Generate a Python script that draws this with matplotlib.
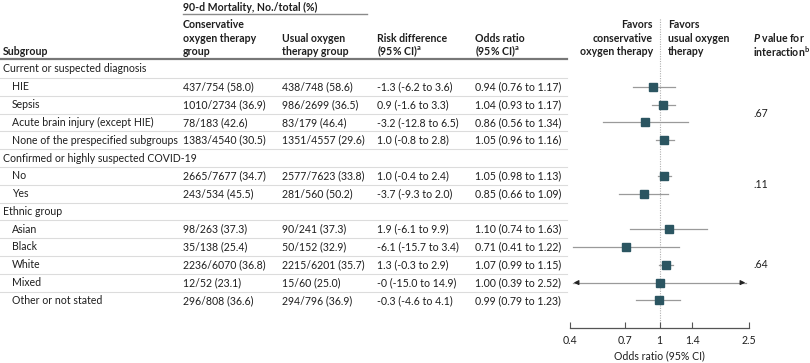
import matplotlib
matplotlib.use("Agg")
import matplotlib.pyplot as plt

plt.rcParams['font.family'] = ['Lato', 'DejaVu Sans']
plt.rcParams['mathtext.fontset'] = 'custom'
plt.rcParams['mathtext.rm'] = 'Lato'
plt.rcParams['mathtext.it'] = 'Lato:italic:bold'
plt.rcParams['mathtext.bf'] = 'Lato:bold'

# table rows (group headers have no numbers)
labels = ["Current or suspected diagnosis", "HIE", "Sepsis", "Acute brain injury (except HIE)",
          "None of the prespecified subgroups", "Confirmed or highly suspected COVID-19", "No", "Yes",
          "Ethnic group", "Asian", "Black", "White", "Mixed", "Other or not stated"]
is_header = [True, False, False, False, False, True, False, False, True, False, False, False, False, False]
conservative = ["", "437/754 (58.0)", "1010/2734 (36.9)", "78/183 (42.6)", "1383/4540 (30.5)",
                "", "2665/7677 (34.7)", "243/534 (45.5)",
                "", "98/263 (37.3)", "35/138 (25.4)", "2236/6070 (36.8)", "12/52 (23.1)", "296/808 (36.6)"]
usual = ["", "438/748 (58.6)", "986/2699 (36.5)", "83/179 (46.4)", "1351/4557 (29.6)",
         "", "2577/7623 (33.8)", "281/560 (50.2)",
         "", "90/241 (37.3)", "50/152 (32.9)", "2215/6201 (35.7)", "15/60 (25.0)", "294/796 (36.9)"]
risk_diff = ["", "-1.3 (-6.2 to 3.6)", "0.9 (-1.6 to 3.3)", "-3.2 (-12.8 to 6.5)", "1.0 (-0.8 to 2.8)",
             "", "1.0 (-0.4 to 2.4)", "-3.7 (-9.3 to 2.0)",
             "", "1.9 (-6.1 to 9.9)", "-6.1 (-15.7 to 3.4)", "1.3 (-0.3 to 2.9)", "-0 (-15.0 to 14.9)",
             "-0.3 (-4.6 to 4.1)"]
odds_text = ["", "0.94 (0.76 to 1.17)", "1.04 (0.93 to 1.17)", "0.86 (0.56 to 1.34)", "1.05 (0.96 to 1.16)",
             "", "1.05 (0.98 to 1.13)", "0.85 (0.66 to 1.09)",
             "", "1.10 (0.74 to 1.63)", "0.71 (0.41 to 1.22)", "1.07 (0.99 to 1.15)", "1.00 (0.39 to 2.52)",
             "0.99 (0.79 to 1.23)"]
or_est = [None, 0.94, 1.04, 0.86, 1.05, None, 1.05, 0.85, None, 1.10, 0.71, 1.07, 1.00, 0.99]
or_lo = [None, 0.76, 0.93, 0.56, 0.96, None, 0.98, 0.66, None, 0.74, 0.41, 0.99, 0.39, 0.79]
or_hi = [None, 1.17, 1.17, 1.34, 1.16, None, 1.13, 1.09, None, 1.63, 1.22, 1.15, 2.52, 1.23]
p_groups = [(1, 4, ".67"), (6, 7, ".11"), (9, 13, ".64")]
or_ticks = [0.4, 0.7, 1, 1.4, 2.5]

TXT = "#1e1e1e"
MARK = "#2b5561"
FS = 7.6

W, H = 810, 363
fig = plt.figure(figsize=(W / 100, H / 100), dpi=100)

# text layer in pixel coordinates
tx = fig.add_axes([0, 0, 1, 1])
tx.set_xlim(0, W)
tx.set_ylim(H, 0)
tx.axis("off")

row0, step = 69, 17.8
def row_y(i):
    return row0 + step * i

col_x = {"label": 3, "indent": 12, "cons": 183, "usual": 282, "rd": 377, "or": 475, "p": 753}

# column headers
tx.text(col_x["cons"], 7, "90-d Mortality, No./total (%)", fontsize=FS, fontweight="bold", color=TXT, va="center")
tx.plot([col_x["cons"], 367], [14, 14], color="#8a8a8a", lw=1.0)
hdr_y = [24.5, 38, 51.5]
def header(x, lines, ha="left"):
    ys = hdr_y[len(hdr_y) - len(lines):]
    for y, s in zip(ys, lines):
        tx.text(x, y, s, fontsize=FS, fontweight="bold", color=TXT, va="center", ha=ha)

header(col_x["label"], ["Subgroup"])
header(col_x["cons"], ["Conservative", "oxygen therapy", "group"])
header(col_x["usual"], ["Usual oxygen", "therapy group"])
header(col_x["rd"], ["Risk difference", r"(95% CI)$^{\mathbf{a}}$"])
header(col_x["or"], ["Odds ratio", r"(95% CI)$^{\mathbf{a}}$"])
header(653, ["Favors", "conservative", "oxygen therapy"], ha="right")
header(668, ["Favors", "usual oxygen", "therapy"])
header(col_x["p"], [r"$\mathit{P}$ value for", r"interaction$^{\mathbf{b}}$"])
tx.plot([0, 567], [59, 59], color="#777777", lw=1.6)

# table body
for i, lab in enumerate(labels):
    y = row_y(i)
    if is_header[i]:
        tx.text(col_x["label"], y, lab, fontsize=FS, color=TXT, va="center")
    else:
        tx.text(col_x["indent"], y, lab, fontsize=FS, color=TXT, va="center")
        tx.text(col_x["cons"], y, conservative[i], fontsize=FS, color=TXT, va="center")
        tx.text(col_x["usual"], y, usual[i], fontsize=FS, color=TXT, va="center")
        tx.text(col_x["rd"], y, risk_diff[i].replace("-", "\u2212") if False else risk_diff[i],
                fontsize=FS, color=TXT, va="center")
        tx.text(col_x["or"], y, odds_text[i], fontsize=FS, color=TXT, va="center")
    if i < len(labels) - 1:
        ys = y + step / 2
        tx.plot([0, 567], [ys, ys], color="#dcdcdc", lw=0.8)

for a, b, p in p_groups:
    tx.text(col_x["p"], row_y((a + b) / 2), p, fontsize=FS, color=TXT, va="center")

# forest plot
x0, x1, ybot, ytop = 570, 749, 328, 18
ax = fig.add_axes([x0 / W, 1 - ybot / H, (x1 - x0) / W, (ybot - ytop) / H])
ax.set_xscale("log")
ax.set_xlim(or_ticks[0], or_ticks[-1])
ax.set_ylim((ybot - row0) / step, (ytop - row0) / step)
ax.patch.set_alpha(0)
for s in ["left", "right", "top"]:
    ax.spines[s].set_visible(False)
ax.spines["bottom"].set_color("#555555")
ax.spines["bottom"].set_linewidth(0.9)
ax.set_yticks([])
ax.set_xticks(or_ticks)
ax.set_xticklabels([f"{t:g}" for t in or_ticks])
ax.minorticks_off()
ax.tick_params(axis="x", direction="in", length=4, width=0.8, color="#555555",
               labelsize=FS, labelcolor=TXT, pad=5)
ax.set_xlabel("Odds ratio (95% CI)", fontsize=FS, color=TXT, labelpad=3)
ax.axvline(1, color="#b0b0b0", lw=0.8, ls=(0, (1, 1.2)), zorder=1)

lo_lim, hi_lim = or_ticks[0], or_ticks[-1]
for i in range(len(labels)):
    if or_est[i] is None:
        continue
    lo, hi = or_lo[i], or_hi[i]
    clip_lo, clip_hi = max(lo, lo_lim * 1.03), min(hi, hi_lim / 1.03)
    ax.plot([clip_lo, clip_hi], [i, i], color="#9a9a9a", lw=0.9, zorder=2)
    if lo < lo_lim:
        ax.annotate("", xy=(lo_lim * 1.01, i), xytext=(lo_lim * 1.12, i),
                    arrowprops=dict(arrowstyle="-|>", color="#222222", lw=0.8, mutation_scale=7))
    if hi > hi_lim:
        ax.annotate("", xy=(hi_lim / 1.01, i), xytext=(hi_lim / 1.12, i),
                    arrowprops=dict(arrowstyle="-|>", color="#222222", lw=0.8, mutation_scale=7))
    ax.plot(or_est[i], i, marker="s", ms=5.2, color=MARK, mec=MARK, zorder=3)

fig.savefig("out.png", dpi=100)
